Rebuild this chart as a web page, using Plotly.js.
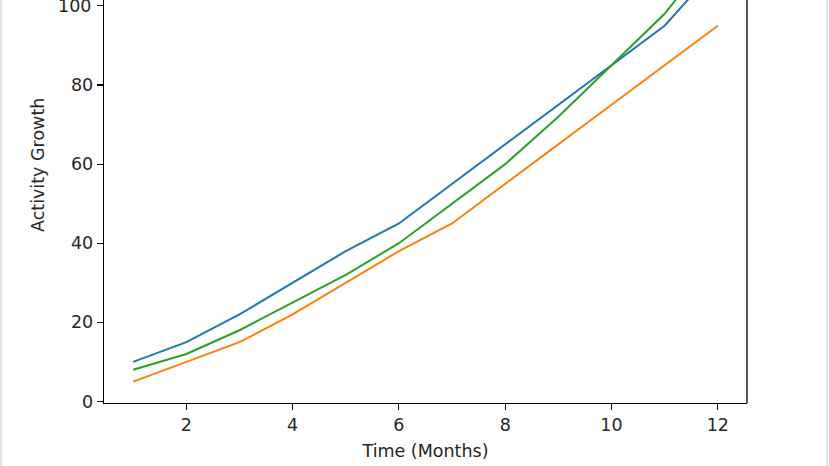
<!DOCTYPE html>
<html>
<head>
<meta charset="utf-8">
<script src="https://cdn.plot.ly/plotly-3.0.1.min.js"></script>
<style>html,body{margin:0;padding:0;background:#fff;}#chart{width:829px;height:466px;}</style>
</head>
<body>
<div id="chart"></div>
<script>
const months = [1, 2, 3, 4, 5, 6, 7, 8, 9, 10, 11, 12];
const seriesA = [10, 15, 22, 30, 38, 45, 55, 65, 75, 85, 95, 110];
const seriesB = [5, 10, 15, 22, 30, 38, 45, 55, 65, 75, 85, 95];
const seriesC = [8, 12, 18, 25, 32, 40, 50, 60, 72, 85, 98, 115];
const xTicks = [2, 4, 6, 8, 10, 12];
const yTicks = [0, 20, 40, 60, 80, 100];
const colors = ['#1f77b4', '#ff7f0e', '#2ca02c'];

const font = {family: 'DejaVu Sans', size: 17.5, color: '#262626'};

const traces = [seriesA, seriesB, seriesC].map((ys, i) => ({
  x: months, y: ys, type: 'scatter', mode: 'lines',
  line: {color: colors[i], width: 2}, showlegend: false, hoverinfo: 'skip'
}));

const layout = {
  width: 829, height: 466,
  margin: {l: 104, r: 82, t: 0, b: 63},
  paper_bgcolor: '#fff', plot_bgcolor: '#fff',
  font: font,
  xaxis: {
    range: [0.45, 12.55], tickvals: xTicks, ticktext: xTicks.map(String),
    showgrid: false, zeroline: false, showline: true, linecolor: '#000', linewidth: 1.3,
    ticks: 'outside', ticklen: 6, tickwidth: 1.1, tickcolor: '#000',
    title: {text: 'Time (Months)', font: font, standoff: 10}
  },
  yaxis: {
    range: [-0.4, 101.5], tickvals: yTicks, ticktext: yTicks.map(v => v === 100 ? '' : String(v)),
    showgrid: false, zeroline: false, showline: true, linecolor: '#000', linewidth: 1.3,
    ticks: 'outside', ticklen: 6, tickwidth: 1.1, tickcolor: '#000'
  },
  shapes: [
    {type: 'line', xref: 'paper', yref: 'paper', x0: 1, x1: 1, y0: 0, y1: 1, line: {color: '#000', width: 1.3}},
    {type: 'line', xref: 'paper', yref: 'paper', x0: -103/643, x1: -103/643, y0: -63/403, y1: 1, line: {color: '#dcdcdc', width: 1.5}},
    {type: 'line', xref: 'paper', yref: 'paper', x0: 723/643, x1: 723/643, y0: -63/403, y1: 1, line: {color: '#dcdcdc', width: 1.5}}
  ],
  annotations: [
    {text: 'Activity Growth', textangle: -90, xref: 'paper', yref: 'paper',
     x: -66/643, y: (403-165)/403, xanchor: 'center', yanchor: 'middle', showarrow: false, font: font},
    {text: '100', xref: 'paper', yref: 'y', x: -12/643, y: 100, xanchor: 'right', yanchor: 'middle',
     showarrow: false, font: font, borderpad: 0, xshift: 0}
  ]
};

Plotly.newPlot('chart', traces, layout, {staticPlot: true, displayModeBar: false});
</script>
</body>
</html>
